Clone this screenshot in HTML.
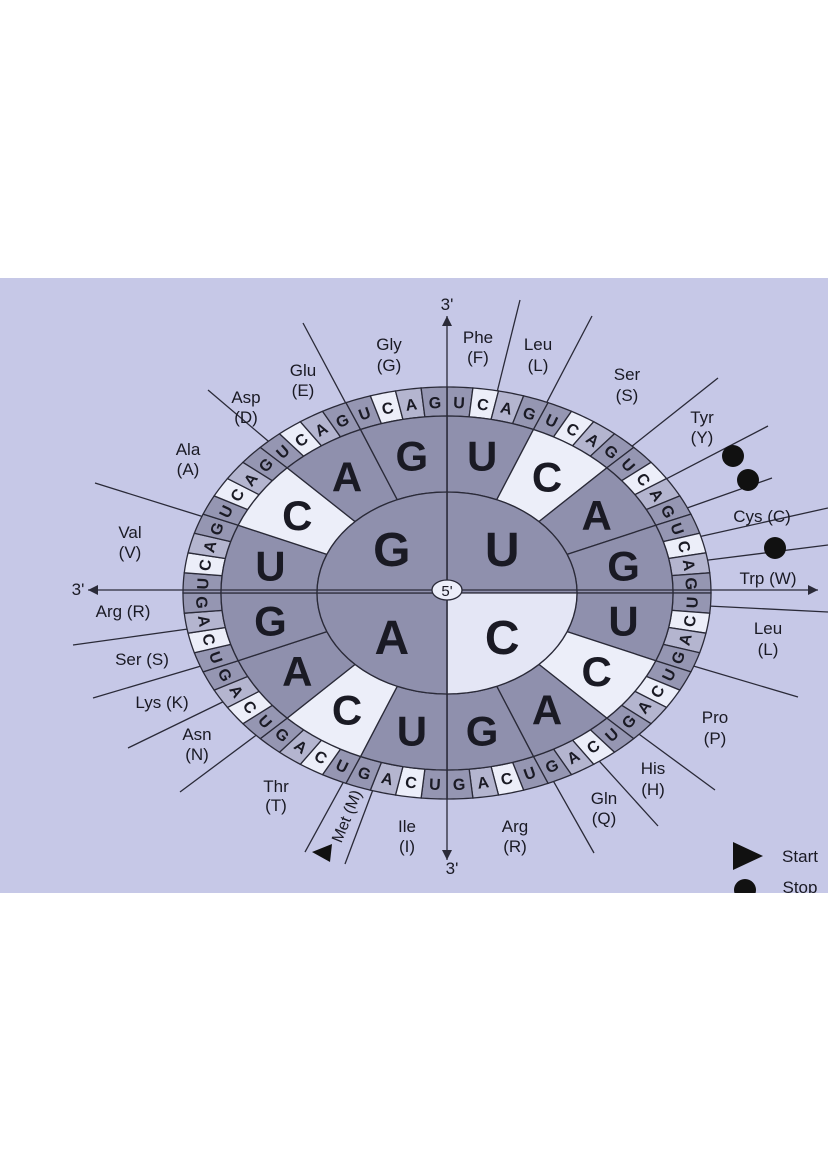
<!DOCTYPE html>
<html><head><meta charset="utf-8"><style>
html,body{margin:0;padding:0;background:#fff;}
body{width:828px;height:1171px;overflow:hidden;position:relative;}
svg{position:absolute;left:0;top:0;}
text{font-family:"Liberation Sans",sans-serif;fill:#1a1a24;}
</style></head><body>
<svg id="s" width="828" height="1171" viewBox="0 0 828 1171">
<rect x="0" y="278" width="828" height="615" fill="#c6c8e7"/>
<g id="g"></g>
</svg>
<script>
const NS="http://www.w3.org/2000/svg";
const g=document.getElementById('g');
const cx=447,cy=593;
function el(t,a,txt){const e=document.createElementNS(NS,t);for(const k in a)e.setAttribute(k,a[k]);if(txt!=null)e.textContent=txt;g.appendChild(e);return e;}
function P(rx,ry,deg){const r=deg*Math.PI/180;return [cx+rx*Math.sin(r),cy-ry*Math.cos(r)];}
const R0=[130,101],R1=[226,177],R2=[264,206];
function sector(a,b,ri,ro,fill){let pts=[];const n=8;
 for(let i=0;i<=n;i++){pts.push(P(ro[0],ro[1],a+(b-a)*i/n));}
 for(let i=n;i>=0;i--){pts.push(P(ri[0],ri[1],a+(b-a)*i/n));}
 el('polygon',{points:pts.map(p=>p.join(',')).join(' '),fill:fill,stroke:'#2a2a38','stroke-width':1.3});}
const ends=[[303,323],[520,300],[592,316],[718,378],[768,426],[772,478],[828,508],[828,545],[828,612],[798,697],[715,790],[658,826],[594,853],[180,792],[128,748],[93,698],[73,645],[95,483],[208,390],[305,852],[345,864]];
ends.forEach(e=>{const dx=e[0]-cx,dy=e[1]-cy;const t=1/Math.sqrt((dx/R2[0])**2+(dy/R2[1])**2);
 el('line',{x1:cx+dx*t,y1:cy+dy*t,x2:e[0],y2:e[1],stroke:'#2a2a38','stroke-width':1.3});});
const L="UCAG";
for(let j=0;j<64;j++){const a=j*5.625,b=a+5.625,l=L[j%4];
 const f=l=='C'?'#eceef9':(l=='A'?'#b4b5cf':'#9596b2');
 sector(a,b,R1,R2,f);
 const m=a+2.8125,p=P(245,191,m);
 const rot=(m>90&&m<270)?m-180:m;
 el('text',{x:p[0],y:p[1]+6,'font-size':16,'font-weight':'bold','text-anchor':'middle',transform:`rotate(${rot} ${p[0]} ${p[1]})`},l);}
for(let i=0;i<16;i++){const a=i*22.5,b=a+22.5,l=L[i%4];
 sector(a,b,R0,R1,l=='C'?'#eceef9':'#8f90ad');
 const p=P(180,140,a+11.25);
 el('text',{x:p[0],y:p[1]+15,'font-size':42,'font-weight':'bold','text-anchor':'middle',fill:'#14141c'},l);}
const q=[['U','#8f90ad'],['C','#e4e6f5'],['A','#8f90ad'],['G','#8f90ad']];
for(let i=0;i<4;i++){const a=i*90;let pts=[[cx,cy]];for(let k=0;k<=20;k++)pts.push(P(R0[0],R0[1],a+90*k/20));
 el('polygon',{points:pts.map(p=>p.join(',')).join(' '),fill:q[i][1],stroke:'#2a2a38','stroke-width':1.3});
 const p=P(78,62,a+45);el('text',{x:p[0],y:p[1]+17,'font-size':48,'font-weight':'bold','text-anchor':'middle',fill:'#14141c'},q[i][0]);}
el('line',{x1:447,y1:316,x2:447,y2:860,stroke:'#2a2a38','stroke-width':1.3});
el('line',{x1:88,y1:590,x2:818,y2:590,stroke:'#2a2a38','stroke-width':1.3});
el('ellipse',{cx:447,cy:590,rx:15,ry:10,fill:'#eceef9',stroke:'#2a2a38','stroke-width':1.3});
el('text',{x:447,y:596,'font-size':15,'text-anchor':'middle'},"5'");
[[447,316,0],[447,860,180],[88,590,270],[818,590,90]].forEach(a=>{el('polygon',{points:'0,0 -5,10 5,10',fill:'#2a2a38',transform:`translate(${a[0]},${a[1]}) rotate(${a[2]})`});});
const labels=[["3'",447,310],["3'",78,595],["3'",452,874],
["Gly",389,350],["(G)",389,371],["Phe",478,343],["(F)",478,363],["Leu",538,350],["(L)",538,371],
["Ser",627,380],["(S)",627,401],["Tyr",702,423],["(Y)",702,443],["Cys (C)",762,522],["Trp (W)",768,584],
["Leu",768,634],["(L)",768,655],["Pro",715,723],["(P)",715,744],["His",653,774],["(H)",653,795],
["Gln",604,804],["(Q)",604,824],["Arg",515,832],["(R)",515,852],["Ile",407,832],["(I)",407,852],
["Thr",276,792],["(T)",276,811],["Asn",197,740],["(N)",197,760],["Lys (K)",162,708],["Ser (S)",142,665],
["Arg (R)",123,617],["Val",130,538],["(V)",130,558],["Ala",188,455],["(A)",188,475],
["Asp",246,403],["(D)",246,423],["Glu",303,376],["(E)",303,396],["Start",800,862],["Stop",800,893]];
labels.forEach(l=>el('text',{x:l[1],y:l[2],'font-size':17,'text-anchor':'middle'},l[0]));
el('text',{x:346,y:822,'font-size':16,'text-anchor':'middle',transform:'rotate(-68 346 816)'},'Met (M)');
el('polygon',{points:'312,852 332,844 330,862',fill:'#111'});
el('polygon',{points:'733,842 763,856 733,870',fill:'#111'});
[[733,456],[748,480],[775,548],[745,890]].forEach(c=>el('circle',{cx:c[0],cy:c[1],r:11,fill:'#111'}));
el('rect',{x:0,y:893,width:828,height:278,fill:'#fff'});
</script>
</body></html>
